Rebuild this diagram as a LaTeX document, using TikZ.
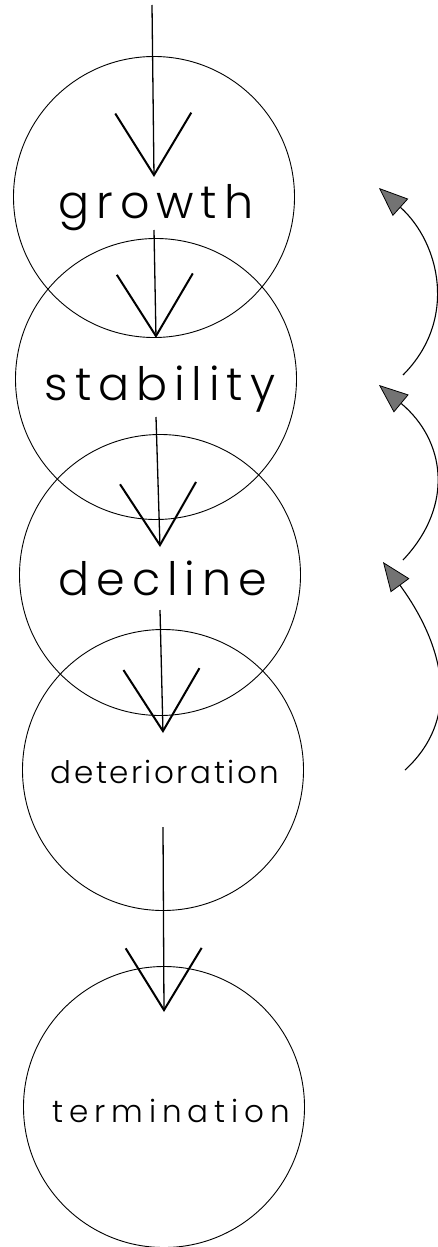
\documentclass[tikz,border=0pt]{standalone}
\usepackage{fontspec}
\usepackage{tikz}
\usetikzlibrary{arrows.meta,positioning}
\newfontfamily\stagefont{Poppins}[UprightFont=*-Light]

\begin{document}
\begin{tikzpicture}[
    x=1pt, y=-1pt,
    stage/.style={circle, draw, line width=0.9pt, minimum size=281pt, inner sep=0pt},
    big/.style={anchor=base, inner sep=0pt, font=\stagefont\addfontfeature{LetterSpace=15}\fontsize{46}{48}\selectfont},
    small/.style={anchor=base, inner sep=0pt, font=\stagefont\addfontfeature{LetterSpace=#1}\fontsize{31}{33}\selectfont},
    flow/.style={-{Straight Barb[length=62pt, width=76pt, line width=2pt]}, line width=1.3pt},
    backflow/.style={-{Triangle[length=29pt, width=23pt, fill=black!55, line width=0.8pt]}, line width=1.1pt}
]
    \useasboundingbox (0,0) rectangle (438,1247);

    % Stages
    \node[stage] (growth) at (154,197) {};
    \node[stage] (stability) at (156,379) {};
    \node[stage] (decline) at (160,575) {};
    \node[stage] (deterioration) at (163,770) {};
    \node[stage] (termination) at (164,1107) {};

    % Labels
    \node[big] (growthlbl) at (156,218) {growth};
    \node[big] (stabilitylbl) at (160,400) {stability};
    \node[big] (declinelbl) at (163,595) {decline};
    \node[small=8] (deteriorationlbl) at (165,783) {deterioration};
    \node[small=19] (terminationlbl) at (171,1122) {termination};

    % Entry point
    \coordinate (start) at (152,5);

    % Forward arrows
    \draw[flow] (start) -- ([yshift=20pt]growth.center);
    \draw[flow] ([yshift=-33pt]growth.center) -- ([yshift=41pt]stability.center);
    \draw[flow] ([yshift=-38pt]stability.center) -- ([yshift=28pt]decline.center);
    \draw[flow] ([yshift=-35pt]decline.center) -- ([yshift=37pt]deterioration.center);
    \draw[flow] ([yshift=-57pt]deterioration.center) -- ([yshift=95pt]termination.center);

    % Return arrows
    \coordinate (back1from) at (403,375);
    \coordinate (back1to) at (379,188);
    \coordinate (back2from) at (403,560);
    \coordinate (back2to) at (379,385);
    \coordinate (back3from) at (405,770);
    \coordinate (back3to) at (383,562);

    \draw[backflow] (back1from) .. controls (458,320) and (440,243) .. (back1to);
    \draw[backflow] (back2from) .. controls (455,505) and (445,440) .. (back2to);
    \draw[backflow] (back3from) .. controls (465,715) and (440,640) .. (back3to);
\end{tikzpicture}
\end{document}
